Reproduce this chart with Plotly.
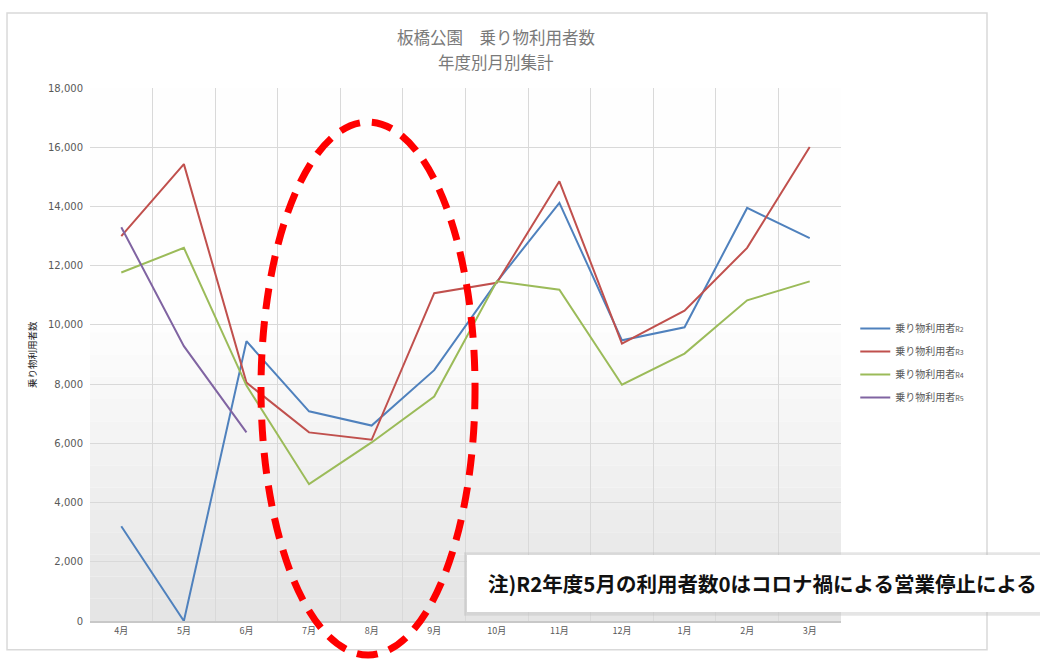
import plotly.graph_objects as go

months = ["4月", "5月", "6月", "7月", "8月", "9月", "10月", "11月", "12月", "1月", "2月", "3月"]
r2 = [3200, 0, 9450, 7080, 6600, 8470, 11450, 14120, 9480, 9920, 13950, 12930]
r3 = [13000, 15430, 8050, 6370, 6120, 11070, 11420, 14850, 9370, 10480, 12600, 16010]
r4 = [11770, 12600, 7950, 4620, 6030, 7580, 11470, 11190, 7980, 9030, 10830, 11470]
r5 = [13300, 9280, 6370]

series_names = ["R2", "R3", "R4", "R5"]
series_values = [r2, r3, r4, r5]
series_colors = ["#4F81BD", "#C0504D", "#9BBB59", "#8064A2"]

title_lines = ["板橋公園　乗り物利用者数", "年度別月別集計"]
y_title = "乗り物利用者数"
note_text = "注)R2年度5月の利用者数0はコロナ禍による営業停止による"

FONT = "Noto Sans CJK JP"

fig = go.Figure()
for name, vals, col in zip(series_names, series_values, series_colors):
    fig.add_trace(go.Scatter(
        x=months[:len(vals)], y=vals, mode="lines",
        name="乗り物利用者<span style='font-size:7px'>" + name + "</span>",
        legendgroup=name,
        line=dict(color=col, width=2),
    ))

# plot-area vertical gradient (white at top, light gray at bottom)
shapes = []
n_bands = 24
for i in range(n_bands):
    t = i / (n_bands - 1)           # 0 bottom -> 1 top
    g = int(229 + (254 - 229) * min(1.0, t * 1.8))
    shapes.append(dict(type="rect", xref="x domain", yref="y domain",
                       x0=0, x1=1, y0=i / n_bands, y1=(i + 1) / n_bands,
                       fillcolor=f"rgb({g},{g},{g})", line=dict(width=0),
                       layer="below"))

# outer border of the chart
shapes.append(dict(type="rect", xref="paper", yref="paper",
                   x0=-0.1105, x1=1.1944, y0=-0.054, y1=1.1407,
                   line=dict(color="#d9d9d9", width=1.5), layer="below"))

# note box with shadow
shapes.append(dict(type="rect", xref="paper", yref="paper",
                   x0=0.498, x1=1.27, y0=0.010, y1=0.129,
                   fillcolor="rgba(190,190,190,0.4)", line=dict(width=0), layer="above"))
shapes.append(dict(type="rect", xref="paper", yref="paper",
                   x0=0.502, x1=1.27, y0=0.017, y1=0.124,
                   fillcolor="white", line=dict(width=0), layer="above"))

# red dashed ellipse
shapes.append(dict(type="circle", xref="paper", yref="paper",
                   x0=0.2277, x1=0.5127, y0=-0.0638, y1=0.936,
                   line=dict(color="#FF0000", width=7, dash="21px,12px"),
                   layer="above"))

annotations = [
    dict(text=title_lines[0], xref="paper", yref="paper", x=0.5406,
         y=(621 - 36.5) / 533, xanchor="center", yanchor="middle", showarrow=False,
         font=dict(size=16.5, color="#7a7a7a", family=FONT)),
    dict(text=title_lines[1], xref="paper", yref="paper", x=0.5406,
         y=(621 - 61.5) / 533, xanchor="center", yanchor="middle", showarrow=False,
         font=dict(size=16.5, color="#7a7a7a", family=FONT)),
    dict(text=y_title, xref="paper", yref="paper", x=-0.09, y=0.5,
         textangle=-90, showarrow=False,
         font=dict(size=9.5, color="#262626", family=FONT)),
    dict(text="<b>" + note_text + "</b>", xref="paper", yref="paper",
         x=0.527, xanchor="left", y=0.071, yanchor="middle",
         showarrow=False, font=dict(size=20.5, color="#111111", family=FONT)),
]

fig.update_layout(
    width=1040, height=660,
    margin=dict(l=90, r=199, t=88, b=39),
    paper_bgcolor="white",
    plot_bgcolor="white",
    font=dict(family=FONT, color="#595959", size=9),
    showlegend=True,
    legend=dict(x=1.019, xanchor="left", y=0.576, yanchor="top",
                font=dict(size=10, color="#595959", family=FONT),
                traceorder="grouped", tracegroupgap=4,
                bgcolor="rgba(0,0,0,0)", itemwidth=30),
    shapes=shapes,
    annotations=annotations,
)

fig.update_xaxes(
    type="category", categoryorder="array", categoryarray=months,
    tickson="boundaries", showgrid=True, gridcolor="#d9d9d9", gridwidth=1,
    ticks="", showline=True, linecolor="#c8c8c8", linewidth=2,
    tickfont=dict(size=9, color="#595959", family=FONT),
    range=[-0.5, 11.5],
)
fig.update_yaxes(
    range=[0, 18000], dtick=2000, tickformat=",",
    showgrid=True, gridcolor="#d9d9d9", gridwidth=1, zeroline=False,
    ticks="", showline=False, ticklabelstandoff=6,
    tickfont=dict(size=10, color="#595959", family="DejaVu Sans"),
)

fig.write_html("out.html")
